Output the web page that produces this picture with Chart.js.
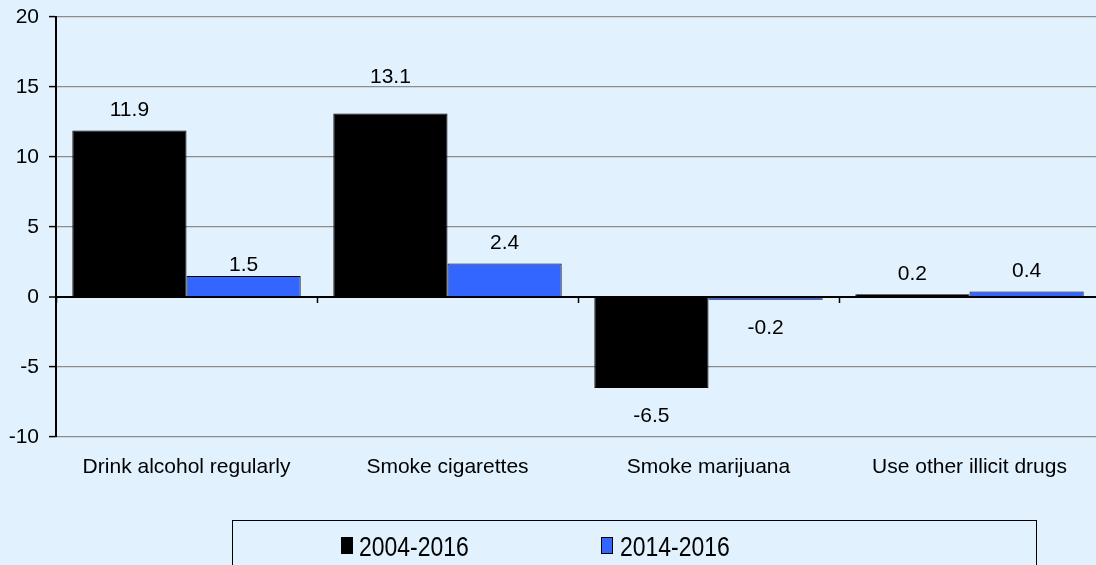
<!DOCTYPE html>
<html><head><meta charset="utf-8">
<script src="https://cdn.jsdelivr.net/npm/chart.js@4"></script>
<style>
html,body{margin:0;padding:0;background:#E1F2FE;overflow:hidden;width:1096px;height:565px;}
#wrap{position:absolute;left:0;top:0;width:1100px;height:565px;}
#legendBox{position:absolute;left:232px;top:520px;width:805px;height:60px;border:1px solid #000;box-sizing:border-box;}
.lg{position:absolute;font-family:"Liberation Sans",Arial,sans-serif;font-size:28px;line-height:28px;color:#000;transform:scaleX(0.82);transform-origin:0 0;white-space:nowrap;}
.mk{position:absolute;width:12px;height:17px;box-sizing:border-box;}
</style></head>
<body>
<div id="wrap"><canvas id="c" width="1100" height="565"></canvas></div>
<div id="legendBox"></div>
<div id="legend"></div>
<script>
// ---- data ----
const categories = ['Drink alcohol regularly', 'Smoke cigarettes', 'Smoke marijuana', 'Use other illicit drugs'];
const seriesNames = ['2004-2016', '2014-2016'];
const values2004_2016 = [11.9, 13.1, -6.5, 0.2];
const values2014_2016 = [1.5, 2.4, -0.2, 0.4];
const yTickValues = [-10, -5, 0, 5, 10, 15, 20];

const seriesColors = ['#000000', '#3366FF'];

// ---- legend (HTML) ----
const legendEl = document.getElementById('legend');
const legendLayout = [{mk: 341, tx: 359}, {mk: 601, tx: 620}];
seriesNames.forEach((name, i) => {
  const mk = document.createElement('div');
  mk.className = 'mk';
  mk.style.left = legendLayout[i].mk + 'px';
  mk.style.top = '537px';
  mk.style.background = seriesColors[i];
  mk.style.border = '1px solid #000';
  legendEl.appendChild(mk);
  const tx = document.createElement('div');
  tx.className = 'lg';
  tx.style.left = legendLayout[i].tx + 'px';
  tx.style.top = '533px';
  tx.textContent = name;
  legendEl.appendChild(tx);
});

// ---- plugins ----
const valueLabels = {
  id: 'valueLabels',
  afterDatasetsDraw(chart, args, opts) {
    const ctx = chart.ctx;
    ctx.save();
    ctx.font = opts.font;
    ctx.fillStyle = '#000';
    ctx.textAlign = 'center';
    ctx.textBaseline = 'alphabetic';
    chart.data.datasets.forEach((ds, di) => {
      const meta = chart.getDatasetMeta(di);
      meta.data.forEach((bar, i) => {
        const v = ds.data[i];
        const nudge = (opts.nudge[di] && opts.nudge[di][i]) || 0;
        const y = v >= 0 ? bar.y - opts.above : bar.y + opts.below;
        ctx.fillText(v.toFixed(1), bar.x, y + nudge);
      });
    });
    ctx.restore();
  }
};

const categoryTicks = {
  id: 'categoryTicks',
  afterDatasetsDraw(chart, args, opts) {
    const ctx = chart.ctx;
    const xs = chart.scales.x, ys = chart.scales.y;
    const y0 = ys.getPixelForValue(0);
    const n = xs.ticks.length;
    const w = (xs.right - xs.left) / n;
    ctx.save();
    ctx.strokeStyle = '#000';
    ctx.lineWidth = 1.5;
    for (let i = 0; i <= n; i++) {
      const px = Math.round(xs.getPixelForValue(0) - w / 2 + i * w) + 0.5;
      ctx.beginPath();
      ctx.moveTo(px, y0);
      ctx.lineTo(px, y0 + opts.length);
      ctx.stroke();
    }
    ctx.restore();
  }
};

Chart.defaults.font.family = "'Liberation Sans', Arial, sans-serif";
Chart.defaults.font.size = 21;
Chart.defaults.color = '#000';

new Chart(document.getElementById('c'), {
  type: 'bar',
  data: {
    labels: categories,
    datasets: [
      { label: seriesNames[0], data: values2004_2016, backgroundColor: seriesColors[0], borderColor: '#000', borderWidth: 1 },
      { label: seriesNames[1], data: values2014_2016, backgroundColor: seriesColors[1], borderColor: '#000', borderWidth: 1 }
    ]
  },
  options: {
    responsive: false,
    animation: false,
    events: [],
    layout: { padding: { top: 17, bottom: 78, left: 0, right: 0 } },
    datasets: { bar: { categoryPercentage: 0.875, barPercentage: 1.0 } },
    scales: {
      x: {
        grid: { display: false },
        border: { display: false },
        ticks: { padding: 10, maxRotation: 0, autoSkip: false, font: { size: 21 } },
        afterFit(scale) { scale.height = 50; scale.paddingLeft = 0; scale.paddingRight = 0; }
      },
      y: {
        min: yTickValues[0],
        max: yTickValues[yTickValues.length - 1],
        afterBuildTicks(scale) { scale.ticks = yTickValues.map(v => ({ value: v })); },
        ticks: { padding: 10, font: { size: 21 } },
        grid: {
          color: c => (c.tick && c.tick.value === 0) ? '#000' : '#8C8C8C',
          lineWidth: c => (c.tick && c.tick.value === 0) ? 2 : 1.2,
          tickColor: '#000',
          tickLength: 7,
          tickWidth: 1.5
        },
        border: { display: true, color: '#000', width: 2 },
        afterFit(scale) { scale.width = 56; scale.paddingTop = 0; scale.paddingBottom = 0; }
      }
    },
    plugins: {
      legend: { display: false },
      tooltip: { enabled: false },
      valueLabels: { font: "21px 'Liberation Sans', Arial, sans-serif", above: 14, below: 34, nudge: { 0: { 1: -17 }, 1: { 0: 9 } } },
      categoryTicks: { length: 6 }
    }
  },
  plugins: [valueLabels, categoryTicks]
});
</script>
</body></html>
